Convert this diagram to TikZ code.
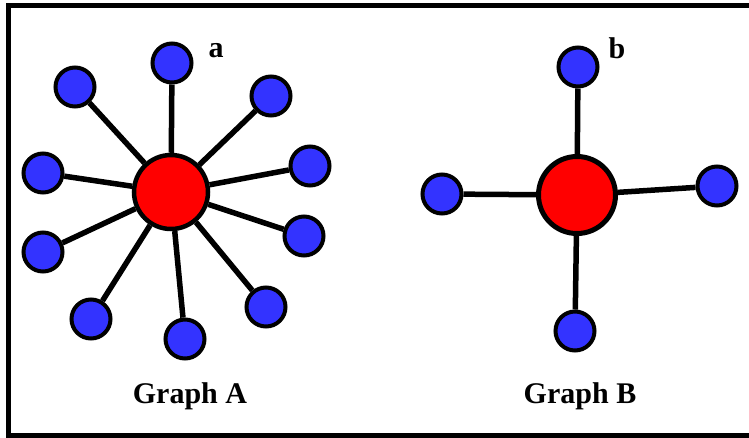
\documentclass[tikz,border=0pt]{standalone}
\usepackage{fontspec}
\setmainfont{Liberation Serif}
\definecolor{hubred}{RGB}{255,0,0}
\definecolor{leafblue}{RGB}{51,51,255}
\tikzset{
	hub/.style={circle,draw=black,line width=4.5pt,fill=hubred,inner sep=0pt},
	leaf/.style={circle,draw=black,line width=4pt,fill=leafblue,minimum size=39pt,inner sep=0pt},
	edge/.style={line width=5.5pt},
	lbl/.style={anchor=base,inner sep=0pt,font=\bfseries\fontsize{30}{36}\selectfont}
}
\begin{document}
\begin{tikzpicture}[x=1pt,y=-1pt]
	\useasboundingbox (0,0) rectangle (749,437);
	\draw [line width=5pt](8.5,5.5) rectangle (755,435.5);

	% graph A
	\node [hub,minimum size=74pt] (ha) at (171,192) {};
	\foreach \p [count=\i] in {(172,63),(75,87),(271,96),(43,173),(310,166),(43,252),(304,236),(91,319),(185,339),(266,307)}
		{
		   \node [leaf] (a\i) at \p {};
		   \draw [edge](ha)--(a\i);
		}
	\node [lbl] (la) at (216,57) {a};
	\node [lbl] (ga) at (190,403) {Graph A};

	% graph B
	\node [hub,minimum size=77pt,line width=5pt] (hb) at (577,195) {};
	\foreach \p [count=\i] in {(578,67),(442,194),(717,186),(575,331)}
		{
		   \node [leaf] (b\i) at \p {};
		   \draw [edge](hb)--(b\i);
		}
	\node [lbl] (lb) at (617,58) {b};
	\node [lbl] (gb) at (580,403) {Graph B};
\end{tikzpicture}
\end{document}
